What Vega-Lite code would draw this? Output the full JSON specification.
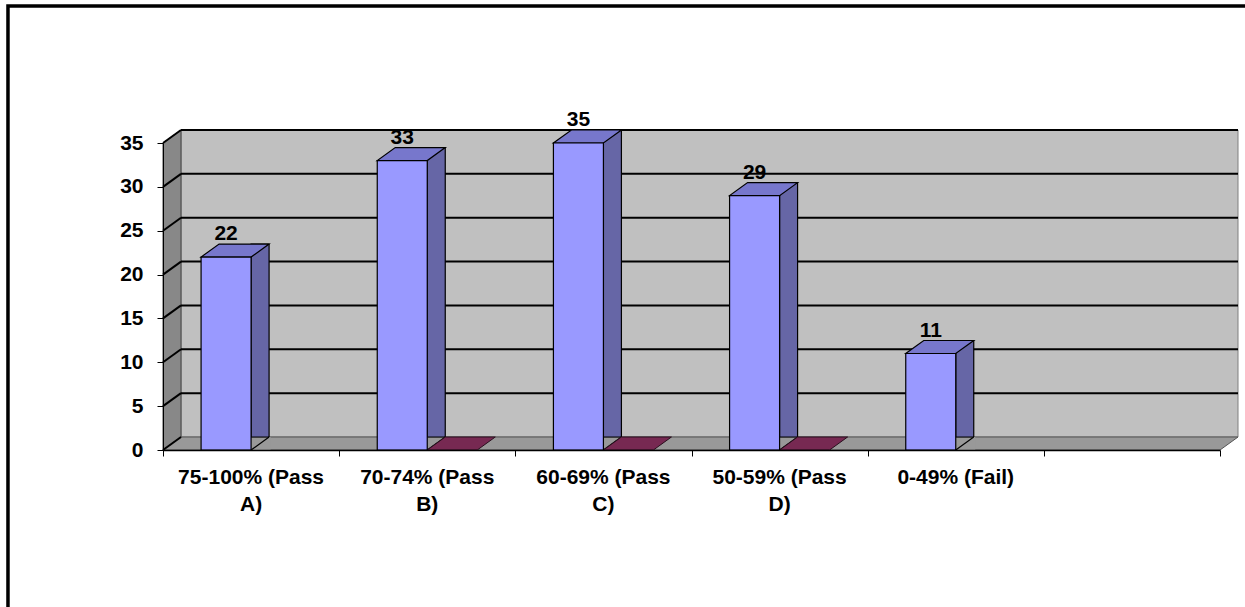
{
  "$schema": "https://vega.github.io/schema/vega-lite/v6.json",
  "width": 1057,
  "height": 307,
  "autosize": {"type": "none"},
  "padding": {"left": 163, "top": 143, "right": 25, "bottom": 157},
  "background": "white",
  "config": {"view": {"stroke": null}, "font": "Liberation Sans"},
  "datasets": {
    "bars": [
      {"cat": "75-100% (Pass A)", "series": "Series1", "value": 22},
      {"cat": "70-74% (Pass B)", "series": "Series1", "value": 33},
      {"cat": "60-69% (Pass C)", "series": "Series1", "value": 35},
      {"cat": "50-59% (Pass D)", "series": "Series1", "value": 29},
      {"cat": "0-49% (Fail)", "series": "Series1", "value": 11},
      {"cat": "70-74% (Pass B)", "series": "Series2", "value": 0},
      {"cat": "60-69% (Pass C)", "series": "Series2", "value": 0},
      {"cat": "50-59% (Pass D)", "series": "Series2", "value": 0}
    ],
    "grid": [{"v": 0}, {"v": 5}, {"v": 10}, {"v": 15}, {"v": 20}, {"v": 25}, {"v": 30}, {"v": 35}]
  },
  "layer": [
    {
      "layer": [
        {
          "data": {"values": [{}]},
          "mark": {"type": "rect", "fill": "white", "fillOpacity": 0, "stroke": "black", "strokeWidth": 3.5},
          "encoding": {
            "x": {"datum": -0.88, "type": "quantitative",
              "scale": {"domain": [0, 6], "nice": false, "zero": false},
              "axis": {"orient": "bottom", "values": [0, 1, 2, 3, 4, 5, 6], "labels": false, "ticks": true, "tickSize": 6, "tickColor": "black", "tickWidth": 1, "domain": true, "domainColor": "black", "domainWidth": 1.5, "grid": false, "title": null, "zindex": 2}},
            "x2": {"datum": 6.5},
            "y": {"datum": 50.62, "type": "quantitative",
              "scale": {"domain": [0, 35], "nice": false, "zero": true},
              "axis": {"values": [0, 5, 10, 15, 20, 25, 30, 35], "tickSize": 6, "tickColor": "black", "tickWidth": 1, "domainColor": "black", "domainWidth": 1, "labelFont": "Liberation Sans", "labelFontWeight": "bold", "labelFontSize": 21, "labelColor": "black", "labelPadding": 14, "grid": false, "title": null, "zindex": 2}},
            "y2": {"datum": -25}
          }
        },
        {
          "data": {"values": [{}]},
          "mark": {"type": "rect", "fill": "#C0C0C0", "stroke": "#808080", "strokeWidth": 1, "xOffset": 18, "x2Offset": 18, "yOffset": -13, "y2Offset": -13},
          "encoding": {"x": {"datum": 0, "type": "quantitative"}, "x2": {"datum": 6}, "y": {"datum": 0, "type": "quantitative"}, "y2": {"datum": 35}}
        },
        {
          "data": {"values": [{}]},
          "mark": {"type": "point", "shape": "M0,0 L0,-307 L18,-320 L18,-13 Z", "size": 4, "filled": true, "fill": "#888888", "stroke": "#444444", "strokeWidth": 1, "opacity": 1},
          "encoding": {"x": {"datum": 0, "type": "quantitative"}, "y": {"datum": 0, "type": "quantitative"}}
        },
        {
          "data": {"values": [{}]},
          "mark": {"type": "point", "shape": "M0,0 L1057,0 L1075,-13 L18,-13 Z", "size": 4, "filled": true, "fill": "#999999", "stroke": "#555555", "strokeWidth": 1, "opacity": 1},
          "encoding": {"x": {"datum": 0, "type": "quantitative"}, "y": {"datum": 0, "type": "quantitative"}}
        },
        {
          "data": {"name": "grid"},
          "transform": [{"filter": "datum.v > 0"}],
          "mark": {"type": "rule", "stroke": "black", "strokeWidth": 2, "xOffset": 18, "x2Offset": 18, "yOffset": -13},
          "encoding": {"x": {"datum": 0, "type": "quantitative"}, "x2": {"datum": 6}, "y": {"field": "v", "type": "quantitative"}}
        },
        {
          "data": {"name": "grid"},
          "mark": {"type": "rule", "stroke": "black", "strokeWidth": 2, "x2Offset": 18, "y2Offset": -13},
          "encoding": {"x": {"datum": 0, "type": "quantitative"}, "x2": {"datum": 0}, "y": {"field": "v", "type": "quantitative"}, "y2": {"field": "v"}}
        }
      ]
    },
    {
      "data": {"name": "bars"},
      "encoding": {
        "x": {"field": "cat", "type": "nominal", "sort": null,
          "scale": {"domain": ["75-100% (Pass A)", "70-74% (Pass B)", "60-69% (Pass C)", "50-59% (Pass D)", "0-49% (Fail)", " "], "paddingInner": 0.4324, "paddingOuter": 0.2162},
          "axis": {"orient": "bottom", "ticks": false, "tickSize": 0, "domain": false, "labelFont": "Liberation Sans", "labelFontSize": 21, "labelFontWeight": "bold", "labelColor": "black", "labelAngle": 0, "labelPadding": 16, "labelBaseline": "top", "labelLineHeight": 27, "labelLimit": 0, "title": null,
            "labelExpr": "indexof(datum.label,'Pass')>=0 ? [substring(datum.label,0,lastindexof(datum.label,' ')), substring(datum.label,lastindexof(datum.label,' ')+1)] : datum.label"}},
        "y": {"field": "value", "type": "quantitative", "scale": {"domain": [0, 35], "nice": false, "zero": true}}
      },
      "layer": [
        {
          "transform": [{"filter": "datum.series === 'Series1'"}],
          "mark": {"type": "bar", "width": 18, "xOffset": 9, "yOffset": -13, "fill": "#6666A6", "stroke": "black", "strokeWidth": 1.2}
        },
        {
          "transform": [{"filter": "datum.series === 'Series1'"}],
          "mark": {"type": "point", "shape": "M0,0.5 L18,-13 L19.5,-13 L19.5,1 L0,1 Z", "size": 4, "filled": true, "fill": "#999999", "strokeWidth": 0, "opacity": 1},
          "encoding": {"y": {"datum": 0, "type": "quantitative"}}
        },
        {
          "transform": [{"filter": "datum.series === 'Series1'"}],
          "mark": {"type": "point", "shape": "M0,0 L18,-13", "size": 4, "filled": false, "stroke": "black", "strokeWidth": 1.2, "opacity": 1},
          "encoding": {"y": {"datum": 0, "type": "quantitative"}}
        },
        {
          "transform": [{"filter": "datum.series === 'Series2'"}],
          "mark": {"type": "point", "shape": "M0,0 L50,0 L68,-13 L18,-13 Z", "size": 4, "filled": true, "fill": "#772952", "stroke": "#2a0f1e", "strokeWidth": 1, "opacity": 1}
        },
        {
          "transform": [{"filter": "datum.series === 'Series1'"}],
          "mark": {"type": "point", "shape": "M-50,0 L0,0 L18,-13 L-32,-13 Z", "size": 4, "filled": true, "fill": "#7777CC", "stroke": "black", "strokeWidth": 1.2, "opacity": 1}
        },
        {
          "transform": [{"filter": "datum.series === 'Series1'"}],
          "mark": {"type": "bar", "width": 50, "xOffset": -25, "fill": "#9999FF", "stroke": "black", "strokeWidth": 1.2}
        },
        {
          "transform": [{"filter": "datum.series === 'Series1'"}],
          "mark": {"type": "text", "dx": -25, "dy": -17, "baseline": "alphabetic", "align": "center", "font": "Liberation Sans", "fontSize": 21, "fontWeight": "bold", "fill": "black"},
          "encoding": {"text": {"field": "value", "type": "quantitative"}}
        }
      ]
    }
  ],
  "resolve": {"scale": {"x": "independent"}, "axis": {"x": "independent"}}
}
